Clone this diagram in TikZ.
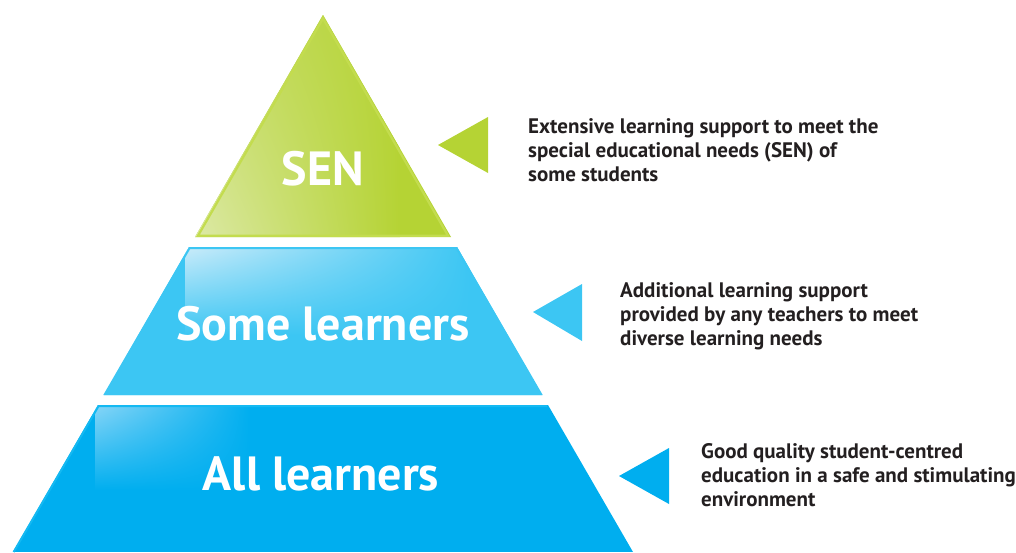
\documentclass[tikz,border=0pt]{standalone}
\usepackage{fontspec}
\setmainfont{PT Sans}
\usetikzlibrary{shadings}
\definecolor{sengreen}{HTML}{B5D334}
\definecolor{senlight}{HTML}{DCE9A6}
\definecolor{senedge}{HTML}{C3DC4E}
\definecolor{midblue}{HTML}{3CC6F3}
\definecolor{midlight}{HTML}{CDECFA}
\definecolor{botblue}{HTML}{00AEEF}
\definecolor{botlight}{HTML}{8AD6F7}
\definecolor{botedge}{HTML}{14B9F2}
\definecolor{txt}{HTML}{231F20}
\tikzset{
  x=1pt, y=-1pt,
  biglabel/.style={text=white, font=\bfseries\fontsize{48}{52}\selectfont, inner sep=0pt, anchor=base},
  desc/.style={text=txt, font=\bfseries\fontsize{21}{24}\selectfont, align=left, inner sep=0pt, anchor=base west},
}
\begin{document}
\begin{tikzpicture}
\useasboundingbox (0,0) rectangle (1016,552);
% --- SEN triangle
\begin{scope}
\clip (323,15) -- (451,237) -- (195,237) -- cycle;
\fill[sengreen] (180,0) rectangle (470,250);
\shade[lower left=senlight, upper left=sengreen!55!senlight, upper right=sengreen, lower right=sengreen] (195,15) rectangle (400,237);
\end{scope}
\draw[senedge, line width=2.2pt, line join=miter] (323,18.5) -- (448,235.8) -- (198,235.8) -- cycle;
% --- Some learners band
\begin{scope}
\clip (189,247) -- (457,247) -- (542,395) -- (104,395) -- cycle;
\fill[midblue] (90,240) rectangle (560,400);
\shade[upper left=midlight, upper right=midblue, lower left=midblue, lower right=midblue] (185,245) rectangle (470,335);
\end{scope}
\draw[midblue, line width=2pt, line join=miter] (189.6,248) -- (456.4,248) -- (541,394) -- (105,394) -- cycle;
% --- All learners band
\begin{scope}
\clip (98,405) -- (548,405) -- (633,552) -- (13,552) -- cycle;
\fill[botblue] (0,400) rectangle (650,552);
\shade[upper left=botlight, upper right=botblue, lower left=botblue, lower right=botblue] (95,403) rectangle (250,490);
\end{scope}
\draw[botedge, line width=2pt] (13.6,552) -- (98.6,406) -- (547.4,406);
% --- labels
\node[biglabel] (sen) at (323,185) {SEN};
\node[biglabel] (some) at (323,340) {Some learners};
\node[biglabel] (all) at (321,490) {All learners};
% --- pointers
\fill[sengreen] (438,145) -- (488,117) -- (488,173) -- cycle;
\fill[midblue] (533,312) -- (582,284) -- (582,341) -- cycle;
\fill[botblue] (619,476) -- (669,448) -- (669,504) -- cycle;
% --- descriptions
\node[desc] (d1) at (528,181) {Extensive learning support to meet the\\special educational needs (SEN) of\\some students};
\node[desc] (d2) at (620,345) {Additional learning support\\provided by any teachers to meet\\diverse learning needs};
\node[desc] (d3) at (701,506) {Good quality student-centred\\education in a safe and stimulating\\environment};
\end{tikzpicture}
\end{document}
